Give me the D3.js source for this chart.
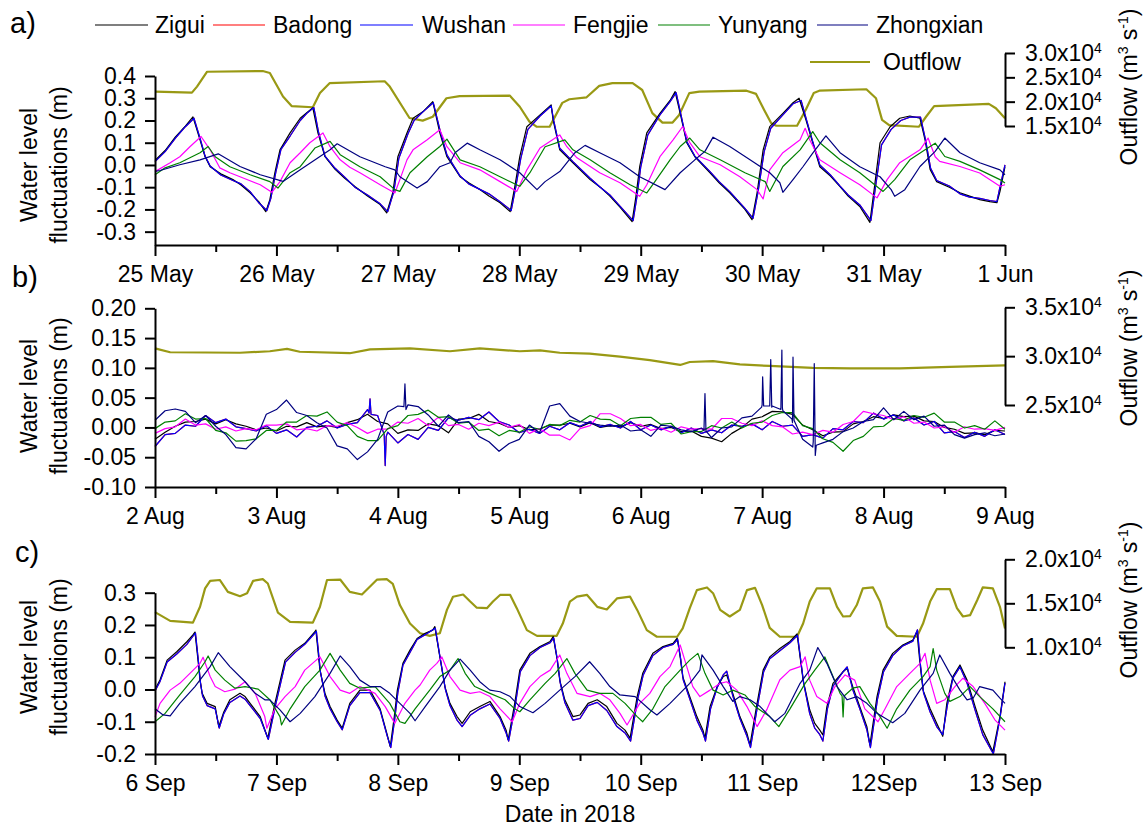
<!DOCTYPE html>
<html>
<head>
<meta charset="utf-8">
<script src="https://cdn.jsdelivr.net/npm/d3@7"></script>
<style>
body { margin: 0; background: #fff; }
svg text { font-family: "Liberation Sans", Arial, sans-serif; fill: #000; }
</style>
</head>
<body>
<svg id="chart" width="1147" height="827"></svg>
<script>
// ---- data (hours since the first day of each panel, value) ----
var stations = ["Zigui", "Badong", "Wushan", "Fengjie", "Yunyang", "Zhongxian"];

var daysA = ["25 May", "26 May", "27 May", "28 May", "29 May", "30 May", "31 May", "1 Jun"];
var daysB = ["2 Aug", "3 Aug", "4 Aug", "5 Aug", "6 Aug", "7 Aug", "8 Aug", "9 Aug"];
var daysC = ["6 Sep", "7 Sep", "8 Sep", "9 Sep", "10 Sep", "11 Sep", "12Sep", "13 Sep"];

var levelTicksA = [-0.3, -0.2, -0.1, 0, 0.1, 0.2, 0.3, 0.4];
var levelTicksB = [-0.10, -0.05, 0, 0.05, 0.10, 0.15, 0.20];
var levelTicksC = [-0.2, -0.1, 0, 0.1, 0.2, 0.3];
var flowTicksA = [15000, 20000, 25000, 30000];
var flowTicksB = [25000, 30000, 35000];
var flowTicksC = [10000, 15000, 20000];

// panel a: 25 May - 1 Jun
var ziguiA = [[0,0.02],[2,0.065],[4,0.125],[6,0.175],[7.5,0.216],[8.9,0.113],[9.9,0.037],[10.9,-0.008],[13,-0.04],[15.4,-0.066],[17,-0.09],[18.8,-0.125],[20.5,-0.165],[21.9,-0.21],[22.7,-0.156],[23.7,-0.035],[24.7,0.068],[26.7,0.144],[28.7,0.21],[30,0.235],[31.2,0.257],[32.2,0.144],[33.6,0.037],[35.6,-0.02],[37.5,-0.06],[39.5,-0.097],[42,-0.14],[44.5,-0.178],[45.8,-0.215],[47,-0.125],[48,0.037],[49.8,0.144],[51,0.21],[53,0.24],[54.9,0.285],[56.3,0.144],[57.7,0.037],[60.3,-0.053],[62,-0.08],[64.2,-0.11],[66,-0.14],[68.2,-0.17],[70.2,-0.21],[71.1,-0.1],[72.1,0.037],[73.5,0.172],[76.1,0.225],[78.3,0.27],[78.7,0.2],[80,0.068],[82.6,0.01],[86,-0.066],[88,-0.1],[89.9,-0.14],[91.9,-0.19],[94.3,-0.255],[95,-0.15],[95.8,-0.008],[97.2,0.144],[99.8,0.232],[101.8,0.29],[102.8,0.33],[103.8,0.232],[105.1,0.1],[106.7,0.037],[109.7,-0.035],[111.5,-0.08],[113.6,-0.125],[116.6,-0.2],[118,-0.246],[119,-0.125],[120.2,0.068],[121.5,0.172],[124.1,0.232],[126.1,0.28],[127.3,0.3],[128.7,0.2],[130,0.1],[131.4,-0.008],[133.5,-0.05],[135.4,-0.097],[137,-0.14],[139.3,-0.187],[141.3,-0.258],[142.2,-0.1],[143.3,0.1],[145.3,0.172],[147.2,0.21],[149.2,0.22],[151.2,0.21],[152.2,0.113],[153.2,-0.02],[154.5,-0.075],[157,-0.1],[159.1,-0.125],[161,-0.14],[163,-0.156],[165,-0.165],[166.4,-0.17],[167,-0.12],[168,-0.008]];
var wushanA = [[0,0.015],[2,0.06],[4,0.12],[6,0.172],[7.7,0.21],[8.9,0.12],[9.9,0.04],[10.9,-0.005],[13,-0.045],[15.4,-0.07],[17,-0.085],[18.8,-0.12],[20.5,-0.17],[22.1,-0.205],[22.9,-0.15],[23.9,-0.03],[24.9,0.07],[26.7,0.13],[28.7,0.2],[30,0.232],[31.4,0.258],[32.3,0.15],[33.6,0.04],[35.6,-0.015],[37.5,-0.055],[39.5,-0.1],[42,-0.135],[44.5,-0.175],[46,-0.21],[47.2,-0.12],[48.2,0.03],[50,0.14],[51.2,0.2],[53,0.24],[55,0.28],[56.4,0.15],[57.7,0.045],[60.3,-0.05],[62,-0.085],[64.2,-0.11],[66,-0.13],[68.2,-0.165],[70.4,-0.205],[71.3,-0.1],[72.3,0.03],[73.7,0.16],[76.1,0.22],[78.3,0.265],[78.8,0.2],[80,0.075],[82.6,0.015],[86,-0.06],[88,-0.1],[89.9,-0.135],[91.9,-0.185],[94.5,-0.25],[95.2,-0.15],[96,-0.01],[97.4,0.135],[99.8,0.225],[101.8,0.285],[103,0.325],[103.9,0.232],[105.1,0.105],[106.7,0.04],[109.7,-0.03],[111.5,-0.075],[113.6,-0.12],[116.6,-0.195],[118.2,-0.24],[119.2,-0.12],[120.4,0.06],[121.7,0.165],[124.1,0.225],[126.1,0.275],[127.7,0.29],[128.8,0.2],[130,0.105],[131.4,0],[133.5,-0.045],[135.4,-0.095],[137,-0.135],[139.3,-0.18],[141.5,-0.25],[142.4,-0.1],[143.6,0.09],[145.5,0.16],[147.4,0.2],[149.2,0.215],[151.3,0.215],[152.3,0.113],[153.3,-0.015],[154.5,-0.07],[157,-0.095],[159.1,-0.13],[161,-0.145],[163,-0.15],[165,-0.16],[166.4,-0.165],[167,-0.1],[168,0.0]];
var badongA = wushanA; // hidden under Wushan in the figure
var fengjieA = [[0,-0.03],[3,0.01],[4.9,0.037],[6.9,0.082],[9.1,0.128],[10.9,0.068],[12.8,-0.013],[14.8,-0.035],[16.8,-0.053],[20.8,-0.089],[23.1,-0.123],[24.7,-0.075],[26.7,0.01],[28.7,0.055],[30.6,0.1],[33.2,0.144],[34.6,0.082],[36.6,0.023],[38.5,-0.01],[40.5,-0.035],[44.5,-0.089],[47.4,-0.126],[48.4,-0.066],[49.8,0.023],[51,0.068],[53.8,0.113],[56.3,0.158],[57.7,0.082],[60.3,0.01],[64.2,-0.022],[68.2,-0.075],[71.5,-0.119],[73.5,-0.022],[76.1,0.076],[80,0.135],[81.4,0.082],[83.4,0.032],[87.9,-0.035],[91.9,-0.08],[95.8,-0.141],[97.2,-0.089],[99.8,0.037],[102.4,0.113],[104.3,0.173],[105.7,0.1],[107.7,0.037],[111.7,0.001],[115.6,-0.053],[119,-0.111],[120.2,-0.153],[121.5,-0.022],[124.1,0.055],[127.5,0.113],[128.5,0.165],[129.4,0.113],[131.4,0.023],[135.4,-0.035],[139.3,-0.089],[142.7,-0.148],[144.7,-0.066],[147.2,0.01],[151.2,0.068],[152.8,0.121],[154.2,0.037],[155.1,0.016],[159.1,-0.007],[163,-0.036],[167,-0.096],[168,-0.089]];
var yunyangA = [[0,-0.044],[2,-0.013],[4.9,0.01],[8.9,0.055],[10.5,0.083],[11.9,0.037],[14.8,-0.008],[18.8,-0.044],[22.7,-0.075],[24.3,-0.104],[26.7,-0.035],[28.7,-0.008],[31.6,0.076],[34.6,0.106],[36.6,0.046],[40.5,-0.008],[44.5,-0.053],[47.4,-0.111],[48.4,-0.119],[50.4,-0.035],[53.8,0.037],[56.3,0.083],[57.7,0.116],[60.3,0.023],[64.2,-0.008],[68.2,-0.053],[72.1,-0.096],[74.1,-0.035],[77.1,0.082],[81,0.113],[82.6,0.068],[86,0.023],[89.9,-0.035],[93.9,-0.089],[97.2,-0.126],[98.8,-0.075],[101.8,0.023],[103.8,0.083],[105.7,0.121],[107.7,0.068],[111.7,0.023],[116.6,-0.035],[120.6,-0.075],[121.5,-0.119],[124.1,-0.007],[127.5,0.068],[130,0.15],[131.4,0.1],[135.4,0.023],[139.3,-0.035],[143.9,-0.119],[146.2,-0.066],[149.2,0.023],[152.2,0.068],[154.2,0.098],[156.1,0.038],[159.1,0.016],[163,-0.022],[167,-0.066],[168,-0.081]];
var zhongxianA = [[0,-0.029],[1,-0.025],[4.9,0.001],[8.9,0.023],[12.5,0.05],[16.8,-0.007],[20.8,-0.044],[25.3,-0.074],[28.7,-0.022],[34.6,0.068],[36,0.095],[40.5,0.037],[45.5,-0.008],[47.4,-0.022],[48.4,-0.053],[51.8,-0.104],[53.8,-0.075],[56.3,-0.008],[58.3,0.01],[59.3,0.055],[61.7,0.098],[64.2,0.068],[68.2,0.023],[72.1,-0.035],[75.5,-0.111],[77.1,-0.075],[80,-0.03],[83,0.055],[85,0.088],[87.9,0.055],[91.9,0.01],[95.8,-0.053],[100.8,-0.111],[103.8,-0.035],[106.7,0.023],[108.7,0.061],[110.3,0.125],[113.6,0.083],[117.6,0.023],[121.5,-0.035],[123.5,-0.08],[124.1,-0.123],[126.1,-0.066],[128.1,-0.007],[130,0.053],[132.6,0.131],[135.4,0.055],[139.3,-0.008],[143.3,-0.053],[145.5,-0.111],[146.2,-0.141],[148.2,-0.111],[151.2,-0.007],[154.2,0.061],[156.1,0.121],[159.1,0.055],[163,0.01],[167,-0.022],[168,-0.044]];
var outflowA = [[0,22050],[7.3,21850],[8.3,23100],[10.3,26150],[21.3,26300],[22.7,25900],[25.3,21050],[27,19100],[31.2,18850],[32.6,21800],[34.5,23800],[45.4,24200],[46.4,23100],[50.3,16650],[52.9,16100],[54.9,16900],[57.6,20700],[60.2,21150],[70.1,21250],[72.1,18950],[74,15900],[75.4,14850],[78,14850],[80.5,19750],[81.9,20500],[85.3,20900],[87.8,23250],[90.4,23800],[94.4,23800],[96.3,22400],[98.3,17650],[100.3,15700],[102.3,15700],[103.6,17250],[105.6,21750],[107.6,22050],[116.9,22250],[118.8,21600],[120.4,18300],[121.8,15550],[122.8,15050],[126.9,15050],[128.6,18300],[130.2,21800],[131.3,22250],[140.6,22550],[142.5,20700],[143.7,16250],[145.1,15200],[151,14850],[152.4,16900],[154,19100],[164.8,19550],[166.2,18650],[168,16600]];

// panel b: 2 Aug - 9 Aug, read every 2 hours
var hoursB = d3.range(0, 169, 2);
var ziguiB = [
-0.02,-0.008,0.002,0.009,0.01,0.014,0.006,0.013,0.006,0.002,-0.004,-0.001,
-0.006,0.002,0.001,0.008,0.001,0.003,0.0,0.008,0.013,0.022,0.01,0.006,
-0.01,-0.004,-0.005,0.006,0.003,-0.009,0.014,0.015,0.022,0.01,0.007,0.0,
0.003,-0.004,-0.003,0.004,0.004,0.007,0.001,0.008,0.0,0.003,0.001,0.008,
0.002,0.005,-0.002,0.0,-0.007,-0.006,-0.015,-0.018,-0.024,-0.01,0.0,0.014,
0.018,0.027,0.026,0.022,0.004,-0.004,-0.014,-0.008,-0.007,0.006,0.01,0.018,
0.015,0.021,0.018,0.019,0.011,0.01,0.0,-0.003,-0.01,-0.009,-0.012,-0.005,
-0.006];
var wushanB = [
-0.032,-0.012,-0.01,0.004,0.002,0.02,0.008,0.014,0.001,-0.002,-0.006,0.003,
-0.01,-0.004,-0.016,0.0,0.002,0.011,-0.001,0.005,0.008,0.03,0.02,-0.008,
-0.026,-0.012,-0.02,0.0,-0.005,0.016,0.012,0.017,0.013,0.026,0.01,0.004,
-0.009,-0.003,-0.01,0.002,-0.004,0.008,0.002,0.01,0.001,0.005,-0.001,0.01,
-0.004,0.004,-0.004,0.002,-0.009,-0.001,-0.01,-0.004,-0.009,0.004,0.002,0.006,
-0.004,0.01,0.002,0.004,-0.015,-0.012,-0.018,-0.002,-0.004,0.01,0.008,0.024,
0.014,0.021,0.011,0.016,0.004,0.01,-0.009,-0.007,-0.017,-0.008,-0.015,-0.004,
-0.012];
var wushanBSpikes = [[42.3,0.024],[42.5,0.048],[42.7,0.022],[45.3,-0.012],[45.5,-0.064],[45.7,-0.015]];
var badongB = wushanB;
var fengjieB = [
-0.01,-0.002,0.001,0.014,0.004,0.006,-0.003,0.001,-0.006,-0.002,-0.004,0.004,
0.004,0.006,-0.004,-0.002,-0.006,0.003,0.002,0.008,0.0,-0.01,-0.003,-0.003,
0.009,0.007,0.015,0.003,0.017,0.003,0.005,-0.003,0.007,0.003,0.009,0.0,
0.005,-0.01,-0.002,-0.013,-0.013,-0.021,-0.002,0.003,0.023,0.023,0.015,0.003,
0.005,-0.005,-0.001,-0.008,0.001,-0.003,-0.002,-0.003,0.015,0.015,0.007,0.003,
0.011,0.003,0.001,-0.011,-0.008,-0.012,-0.005,-0.008,0.005,0.01,0.027,0.023,
0.02,0.013,0.018,0.007,0.009,-0.001,0.001,-0.008,0.001,-0.003,-0.002,-0.005,
0.0];
var yunyangB = [
-0.002,0.009,0.011,0.023,0.014,0.015,-0.005,-0.009,-0.023,-0.022,-0.019,-0.005,
-0.005,0.009,0.009,0.02,0.019,0.026,0.009,0.003,-0.015,-0.022,-0.022,-0.002,
0.003,0.02,0.022,0.029,0.017,0.018,0.007,0.009,-0.005,-0.003,-0.014,-0.005,
-0.008,0.001,-0.003,0.005,0.003,0.012,0.009,0.02,0.014,0.013,0.003,0.015,
0.017,0.017,0.005,0.007,-0.011,-0.007,-0.007,0.003,-0.001,0.009,-0.001,0.007,
0.009,0.02,0.025,0.025,0.003,-0.002,-0.019,-0.025,-0.04,-0.022,-0.015,0.001,
0.002,0.015,0.012,0.02,0.017,0.024,0.009,0.009,-0.001,0.003,-0.003,0.011,
-0.003];
var zhongxianB = [
0.012,0.028,0.031,0.027,0.008,0.02,0.002,-0.012,-0.034,-0.036,-0.019,0.022,
0.03,0.046,0.025,0.02,0.008,-0.001,-0.031,-0.036,-0.054,-0.041,-0.02,0.026,
0.036,0.038,0.035,0.021,0.002,0.021,0.008,0.01,-0.015,-0.024,-0.04,-0.027,
-0.02,0.004,-0.009,0.036,0.04,0.019,0.01,0.007,0.004,0.002,0.004,-0.006,
-0.004,-0.015,0.004,0.002,-0.004,-0.007,-0.001,-0.017,-0.001,0.001,0.016,0.019,
0.038,0.036,0.033,0.008,-0.02,-0.033,-0.026,-0.02,-0.007,-0.001,0.01,0.013,
0.033,0.013,0.027,0.013,0.019,0.002,0.004,-0.012,-0.018,-0.012,-0.009,-0.014,
-0.011];
var zhongxianBSpikes = [[49.2,0.035],[49.4,0.073],[49.6,0.03],[108.5,-0.005],[108.7,0.057],[108.9,-0.006],[119.9,0.034],[120.1,0.085],[120.3,0.036],[121.5,0.036],[121.7,0.114],[121.9,0.034],[123.7,0.03],[123.9,0.13],[124.1,0.028],[125.9,0.014],[126.1,0.118],[126.3,0.012],[130.1,-0.024],[130.3,0.107],[130.5,-0.047],[130.7,-0.03]];
var outflowB = [[0,30800],[3,30400],[16.8,30350],[22.7,30500],[26.1,30750],[28.6,30450],[38.5,30300],[42.5,30700],[50.4,30800],[58.3,30500],[64.2,30800],[72.1,30500],[76.1,30600],[80,30350],[85.9,30250],[91.9,29950],[97.8,29600],[103.8,29100],[105.7,29400],[110.3,29500],[115.6,29150],[121.5,29000],[130,28800],[137.4,28750],[147.2,28750],[157.1,28900],[168,29050]];

// panel c: 6 Sep - 13 Sep
var ziguiC = [[0,0.0],[1,0.03],[2.4,0.091],[4.3,0.117],[6.3,0.148],[7.5,0.169],[7.9,0.178],[8.5,0.091],[8.9,0.029],[9.3,-0.011],[10.3,-0.043],[11.9,-0.053],[12.6,-0.115],[13.6,-0.07],[14.8,-0.032],[16.8,-0.012],[17.8,-0.022],[18.8,-0.043],[20.8,-0.084],[22.3,-0.151],[23.7,-0.043],[25.7,0.091],[27.7,0.122],[29.6,0.143],[31.6,0.179],[31.8,0.184],[32.6,0.06],[33.6,-0.012],[34.6,-0.053],[36,-0.095],[37,-0.12],[38.5,-0.043],[40.5,-0.002],[42.5,-0.002],[44.5,-0.06],[46,-0.146],[46.5,-0.177],[47.3,-0.084],[47.9,-0.002],[49,0.081],[50.4,0.122],[51.8,0.158],[53.4,0.174],[54.9,0.184],[55.3,0.195],[56.3,0.101],[57.3,0.009],[58.3,-0.043],[59.7,-0.084],[60.7,-0.105],[62.3,-0.069],[64.2,-0.053],[66.2,-0.037],[68.2,-0.084],[69.4,-0.126],[69.8,-0.156],[71.1,-0.043],[72.1,0.06],[74.1,0.112],[76.1,0.133],[78.1,0.149],[78.7,0.164],[79.4,0.101],[80,0.029],[81,-0.032],[82.6,-0.084],[84,-0.079],[85.6,-0.043],[87.4,-0.032],[89.3,-0.053],[91.3,-0.105],[92.9,-0.126],[93.9,-0.151],[95.3,-0.022],[96.4,0.05],[98.4,0.112],[100.4,0.133],[102.4,0.143],[103.2,0.159],[103.8,0.101],[104.3,0.04],[105.7,-0.022],[107.1,-0.084],[108.3,-0.126],[108.7,-0.151],[109.7,-0.053],[111.1,0.009],[112.3,0.04],[113,0.045],[114.2,-0.012],[115.6,-0.084],[117,-0.136],[117.6,-0.172],[119,-0.043],[120.2,0.06],[121.5,0.101],[123.5,0.127],[125.5,0.149],[126.9,0.172],[127.5,0.101],[128.1,0.029],[129.4,-0.063],[130.4,-0.105],[131.4,-0.126],[132,-0.141],[132.8,-0.053],[134,0.019],[136,0.055],[136.8,0.066],[137.9,0.009],[139.3,-0.053],[140.7,-0.115],[141.3,-0.172],[142.7,-0.022],[143.9,0.06],[145.8,0.112],[147.8,0.138],[149.8,0.153],[150.6,0.179],[151.2,0.081],[151.8,-0.002],[153.2,-0.06],[154.5,-0.105],[155.7,-0.145],[156.5,-0.043],[157.7,0.04],[159.1,0.076],[160.5,0.029],[162.1,-0.053],[163.6,-0.126],[165.6,-0.193],[167,-0.084],[168,0.024]];
var wushanC = [[0,-0.005],[1,0.025],[2.4,0.085],[4.3,0.11],[6.3,0.14],[7.5,0.165],[8,0.175],[8.6,0.085],[9,0.02],[9.4,-0.02],[10.3,-0.05],[11.9,-0.06],[12.7,-0.12],[13.6,-0.075],[14.8,-0.04],[16.8,-0.02],[17.8,-0.03],[18.8,-0.05],[20.8,-0.09],[22.4,-0.155],[23.8,-0.05],[25.8,0.085],[27.7,0.115],[29.6,0.14],[31.6,0.175],[31.9,0.18],[32.7,0.055],[33.6,-0.02],[34.6,-0.06],[36,-0.1],[37,-0.125],[38.5,-0.05],[40.5,-0.01],[42.5,-0.01],[44.5,-0.065],[46,-0.15],[46.6,-0.18],[47.4,-0.09],[48,-0.01],[49,0.075],[50.4,0.115],[51.8,0.155],[53.4,0.17],[54.9,0.185],[55.4,0.19],[56.4,0.095],[57.4,0.0],[58.3,-0.05],[59.7,-0.095],[60.7,-0.115],[62.3,-0.08],[64.2,-0.06],[66.2,-0.045],[68.2,-0.09],[69.4,-0.135],[69.9,-0.16],[71.2,-0.05],[72.2,0.055],[74.1,0.105],[76.1,0.13],[78.1,0.145],[78.8,0.16],[79.5,0.095],[80.1,0.02],[81,-0.04],[82.6,-0.095],[84,-0.09],[85.6,-0.05],[87.4,-0.04],[89.3,-0.065],[91.3,-0.115],[92.9,-0.135],[94,-0.16],[95.4,-0.03],[96.5,0.045],[98.4,0.105],[100.4,0.13],[102.4,0.14],[103.3,0.155],[103.9,0.095],[104.4,0.03],[105.7,-0.03],[107.1,-0.095],[108.3,-0.135],[108.8,-0.16],[109.8,-0.06],[111.1,0.005],[112.3,0.045],[113,0.057],[114.2,-0.02],[115.6,-0.09],[117,-0.145],[117.7,-0.18],[119.1,-0.05],[120.3,0.055],[121.5,0.095],[123.5,0.12],[125.5,0.145],[127,0.168],[127.6,0.095],[128.2,0.02],[129.4,-0.075],[130.4,-0.12],[131.4,-0.14],[132,-0.16],[132.9,-0.06],[134,0.01],[136,0.055],[136.8,0.07],[137.9,0.0],[139.3,-0.06],[140.7,-0.125],[141.4,-0.18],[142.8,-0.03],[144,0.055],[145.8,0.105],[147.8,0.135],[149.8,0.15],[150.7,0.185],[151.3,0.075],[151.9,-0.01],[153.2,-0.07],[154.5,-0.115],[155.7,-0.14],[156.6,-0.05],[157.7,0.035],[159.1,0.07],[160.5,0.02],[162.1,-0.065],[163.6,-0.14],[165.7,-0.2],[167,-0.09],[168,0.02]];
var badongC = wushanC;
var fengjieC = [[0,-0.085],[1,-0.043],[3,-0.002],[4.9,0.019],[6.9,0.05],[8.9,0.081],[9.5,0.1],[10.9,0.04],[11.9,0.009],[13.8,-0.007],[15.8,0.001],[17.8,0.024],[19.8,-0.012],[21.7,-0.084],[22.1,-0.12],[23.7,-0.06],[25.7,-0.022],[27.7,0.009],[29.6,0.06],[32.6,0.101],[34.6,0.04],[36.6,-0.002],[38.5,-0.012],[40.5,0.009],[43.5,-0.012],[45.5,-0.053],[47.4,-0.105],[49.4,-0.043],[51.4,-0.002],[52.4,0.014],[54.3,0.06],[55.7,0.081],[56.7,0.101],[58.3,0.04],[60.3,-0.002],[62.3,-0.012],[64.2,-0.007],[66.2,-0.022],[68.2,-0.06],[70.6,-0.1],[72.1,-0.043],[74.1,0.009],[76.1,0.04],[78.1,0.06],[80,0.107],[81.4,0.05],[83.4,-0.012],[86,-0.022],[87.9,-0.012],[89.9,-0.032],[91.9,-0.074],[93.3,-0.11],[95.8,-0.043],[97.8,-0.012],[99.8,0.04],[101.8,0.071],[103.8,0.138],[105.1,0.071],[106.3,0.009],[107.7,-0.022],[109.7,-0.002],[111.7,0.019],[113,0.024],[115,-0.002],[117,-0.053],[119,-0.115],[121,-0.06],[123.5,0.03],[125.5,0.06],[127.5,0.071],[128.5,0.101],[129.4,0.029],[130.8,-0.022],[132.8,-0.043],[134.4,0.009],[136.4,0.045],[138.3,0.029],[140.3,-0.06],[142.9,-0.1],[144.3,-0.06],[146.6,0.009],[149.2,0.05],[151.2,0.081],[152.2,0.112],[153.2,0.029],[154.5,-0.043],[156.1,-0.032],[158.1,0.009],[159.7,0.035],[161.7,0.009],[164,-0.043],[166,-0.094],[168,-0.126]];
var yunyangC = [[0,-0.1],[2,-0.074],[4.9,-0.017],[7.9,0.04],[9.9,0.086],[10.5,0.104],[11.9,0.06],[13.8,0.029],[15.8,0.004],[17.8,0.009],[20.4,0.001],[22.7,-0.032],[24.7,-0.084],[25,-0.11],[26.7,-0.06],[29.6,0.009],[32.6,0.06],[34.6,0.112],[36.6,0.06],[38.5,0.019],[40.5,0.004],[43.5,0.009],[46.4,-0.043],[48.4,-0.1],[49.4,-0.105],[51.4,-0.06],[54.3,-0.002],[56.3,0.04],[58.3,0.06],[59.9,0.096],[61.3,0.05],[63.2,0.009],[66.2,-0.012],[69.2,-0.032],[71.1,-0.06],[72.1,-0.069],[74.1,-0.032],[77.1,0.019],[79.1,0.05],[81.4,0.096],[83,0.05],[85.4,-0.002],[87.9,-0.012],[90.5,-0.012],[92.9,-0.043],[95.3,-0.084],[96.4,-0.1],[98.4,-0.06],[100.8,0.009],[103.8,0.06],[105.7,0.091],[107.3,0.112],[108.7,0.05],[110.3,-0.002],[112.3,-0.017],[114.2,-0.002],[116.6,-0.017],[118.6,-0.053],[121.5,-0.084],[123.3,-0.115],[125.5,-0.06],[128.5,0.019],[130.4,0.06],[132.4,0.101],[134,0.04],[135.4,-0.012],[135.8,-0.02],[136,-0.085],[136.2,-0.02],[137.9,0.004],[139.3,0.009],[141.3,-0.043],[143.3,-0.084],[144.7,-0.12],[146.6,-0.06],[149.2,-0.002],[151.8,0.04],[153.2,0.071],[153.8,0.127],[154.5,0.06],[156.1,-0.012],[157.1,-0.037],[159.1,-0.022],[161.1,0.009],[163,-0.022],[165.6,-0.06],[168,-0.1]];
var zhongxianC = [[0,-0.06],[1.6,-0.079],[3,-0.082],[4.9,-0.043],[7.9,0.009],[10.9,0.071],[12.5,0.114],[14.8,0.071],[17.8,0.024],[19.8,-0.012],[21.7,-0.032],[22.7,-0.032],[24.7,-0.063],[26.7,-0.1],[28.7,-0.074],[31.6,-0.022],[34.6,0.05],[36.6,0.104],[38.5,0.071],[40.5,0.029],[42.5,0.009],[44.5,0.009],[46.4,-0.012],[48.4,-0.043],[50.4,-0.074],[51.4,-0.097],[53.4,-0.053],[56.3,0.009],[58.3,0.06],[60.3,0.094],[62.3,0.06],[64.2,0.024],[66.2,-0.002],[68.2,-0.007],[70.2,-0.022],[72.1,-0.053],[74.7,-0.072],[77.1,-0.043],[80,-0.002],[83,0.04],[85.9,0.086],[87.9,0.05],[89.9,0.009],[91.9,-0.017],[94.9,-0.022],[97.8,-0.063],[99.2,-0.079],[101.8,-0.043],[105.7,0.019],[107.7,0.06],[108.1,0.107],[110.3,0.06],[112.3,0.009],[114.2,-0.037],[115.6,-0.022],[117.6,-0.032],[119.6,-0.053],[121.5,-0.084],[122.5,-0.1],[124.5,-0.074],[127.5,0.019],[129.4,0.06],[131,0.13],[132.8,0.081],[134.8,0.009],[136.8,-0.032],[138.7,-0.022],[140.7,-0.043],[142.7,-0.074],[145.8,-0.103],[148.2,-0.074],[151.2,-0.002],[153.8,0.05],[155.1,0.107],[157.1,0.05],[159.1,-0.002],[160.5,-0.032],[161.7,-0.027],[163,0.009],[165.6,-0.002],[167,-0.027],[168,-0.043]];
var outflowC = [[0,14000],[3,13000],[7.5,12800],[8.9,14600],[9.9,16700],[10.9,17550],[12.8,17650],[14.4,16300],[16.8,15800],[18.2,16150],[19.4,17550],[21.3,17750],[22.3,17250],[24.3,13950],[26.7,12900],[31.2,12800],[32.6,14600],[34,17650],[36.6,17700],[38.5,16300],[40.9,16000],[42.5,16900],[43.9,17700],[45.8,17750],[47,17200],[48.4,14800],[50.4,12700],[52.4,11600],[54.3,11300],[56.3,11600],[57.7,14250],[58.9,15750],[60.9,16000],[62.3,15200],[63.6,14500],[65.6,14450],[66.8,15200],[68.2,15950],[70.2,15950],[71.5,14450],[73.5,11950],[75.5,11300],[79.4,11300],[80.6,12700],[82,15200],[83.4,15750],[85.4,15950],[87.4,14600],[89.3,14300],[91.3,15550],[93.9,15750],[95.3,14250],[97.2,11950],[99.2,11200],[103.2,11200],[104.3,12150],[105.7,14450],[107.1,16500],[109.1,16800],[110.3,16150],[111.7,14250],[113.6,13500],[115.6,14250],[117,16500],[118.6,16750],[120,14800],[121.5,12200],[123.5,11200],[126.9,11200],[128.1,12700],[129.4,15200],[130.8,16700],[133.4,16700],[134.8,14600],[136,13500],[137.4,13550],[138.7,14800],[139.9,16700],[141.9,16800],[143.3,15200],[144.7,12350],[146.6,11300],[150.6,11200],[151.8,12700],[153.2,15200],[154.5,16600],[157.1,16600],[158.5,14450],[159.7,13500],[161.1,13650],[162.5,15350],[163.6,16800],[165.6,16700],[167,14600],[168,12150]];

// ---- styles / layout ----
var colors = { Zigui: "#000000", Badong: "#ff0000", Wushan: "#0000ff", Fengjie: "#ff00ff",
               Yunyang: "#008000", Zhongxian: "#000080", Outflow: "#999914" };
var drawOrder = ["Badong", "Zigui", "Wushan", "Fengjie", "Yunyang", "Zhongxian"];
var X0 = 155, X1 = 1005;
var FS = 23;

// grid series of panel b -> [hour, value], with the thin spikes merged in
function gridSeries(vals, spikes) {
  var pts = hoursB.map(function (h, i) { return [h, vals[i]]; });
  if (spikes) pts = pts.concat(spikes).sort(function (a, b) { return a[0] - b[0]; });
  return pts;
}

var panels = [
  { label: "a)", lx: 10, ly: 33, top: 76, bottom: 245, yDomain: [-0.36, 0.4], yTicks: levelTicksA, digits: 1,
    rTop: 53, rBottom: 126, rDomain: [15000, 30000], rTicks: flowTicksA, days: daysA, titleY: 165, rTitleY: 87,
    series: { Zigui: ziguiA, Badong: badongA, Wushan: wushanA, Fengjie: fengjieA, Yunyang: yunyangA, Zhongxian: zhongxianA },
    outflow: outflowA },
  { label: "b)", lx: 12, ly: 287, top: 308.3, bottom: 487, yDomain: [-0.10, 0.20], yTicks: levelTicksB, digits: 2,
    rTop: 307.3, rBottom: 405, rDomain: [25000, 35000], rTicks: flowTicksB, days: daysB, titleY: 396, rTitleY: 348,
    series: { Zigui: gridSeries(ziguiB), Badong: gridSeries(badongB, wushanBSpikes), Wushan: gridSeries(wushanB, wushanBSpikes),
              Fengjie: gridSeries(fengjieB), Yunyang: gridSeries(yunyangB), Zhongxian: gridSeries(zhongxianB, zhongxianBSpikes) },
    outflow: outflowB },
  { label: "c)", lx: 15, ly: 562, top: 592.7, bottom: 754, yDomain: [-0.2, 0.3], yTicks: levelTicksC, digits: 1,
    rTop: 559.3, rBottom: 647.3, rDomain: [10000, 20000], rTicks: flowTicksC, days: daysC, titleY: 657, rTitleY: 600,
    series: { Zigui: ziguiC, Badong: badongC, Wushan: wushanC, Fengjie: fengjieC, Yunyang: yunyangC, Zhongxian: zhongxianC },
    outflow: outflowC }
];

var svg = d3.select("#chart");
svg.append("rect").attr("width", 1147).attr("height", 827).attr("fill", "#fff");

function styleAxis(g) {
  g.attr("font-size", FS).attr("font-family", "'Liberation Sans', Arial, sans-serif");
  g.selectAll(".domain, .tick line").attr("stroke", "#000").attr("stroke-width", 2);
  g.selectAll("text").attr("fill", "#000");
}

panels.forEach(function (p) {
  var x = d3.scaleLinear().domain([0, 168]).range([X0, X1]);
  var y = d3.scaleLinear().domain(p.yDomain).range([p.bottom, p.top]);
  var yR = d3.scaleLinear().domain(p.rDomain).range([p.rBottom, p.rTop]);
  var g = svg.append("g");

  // outflow under the water level lines
  g.append("path").datum(p.outflow)
    .attr("d", d3.line().x(function (d) { return x(d[0]); }).y(function (d) { return yR(d[1]); }))
    .attr("fill", "none").attr("stroke", colors.Outflow).attr("stroke-width", 2.2)
    .attr("stroke-linejoin", "round");

  var lvl = d3.line().x(function (d) { return x(d[0]); }).y(function (d) { return y(d[1]); });
  drawOrder.forEach(function (name) {
    g.append("path").datum(p.series[name])
      .attr("d", lvl).attr("fill", "none").attr("stroke", colors[name]).attr("stroke-width", 1.2)
      .attr("stroke-linejoin", "round");
  });

  // x axis: day ticks + half-day minor ticks
  var dayTicks = d3.range(0, 169, 24);
  g.append("g").attr("transform", "translate(0," + p.bottom + ")")
    .call(d3.axisBottom(x).tickValues(dayTicks).tickFormat(function (d, i) { return p.days[i]; })
      .tickSize(11).tickPadding(10).tickSizeOuter(0))
    .call(styleAxis);
  g.append("g").attr("transform", "translate(0," + p.bottom + ")")
    .call(d3.axisBottom(x).tickValues(d3.range(12, 168, 24)).tickFormat("").tickSize(7).tickSizeOuter(0))
    .call(styleAxis)
    .select(".domain").remove();

  // left axis
  g.append("g").attr("transform", "translate(" + X0 + ",0)")
    .call(d3.axisLeft(y).tickValues(p.yTicks).tickFormat(function (d) { return d.toFixed(p.digits); })
      .tickSize(10).tickPadding(9).tickSizeOuter(0))
    .call(styleAxis);

  // right axis, labels like 1.5x10^4
  var ra = g.append("g").attr("transform", "translate(" + X1 + ",0)")
    .call(d3.axisRight(yR).tickValues(p.rTicks).tickFormat("").tickSize(10).tickPadding(10).tickSizeOuter(0))
    .call(styleAxis);
  ra.selectAll(".tick text").each(function (d) {
    var t = d3.select(this);
    t.append("tspan").text((d / 10000).toFixed(1) + "x10");
    t.append("tspan").attr("dy", "-0.55em").attr("font-size", 14).text("4");
  });

  // axis titles
  g.append("text").attr("transform", "translate(37," + p.titleY + ") rotate(-90)")
    .attr("text-anchor", "middle").attr("font-size", FS).text("Water level");
  g.append("text").attr("transform", "translate(67," + p.titleY + ") rotate(-90)")
    .attr("text-anchor", "middle").attr("font-size", FS).text("fluctuations (m)");
  var rt = g.append("text").attr("transform", "translate(1137," + p.rTitleY + ") rotate(-90)")
    .attr("text-anchor", "middle").attr("font-size", FS);
  rt.append("tspan").text("Outflow (m");
  rt.append("tspan").attr("dy", -9).attr("font-size", 14).text("3");
  rt.append("tspan").attr("dy", 9).text(" s");
  rt.append("tspan").attr("dy", -9).attr("font-size", 14).text("-1");
  rt.append("tspan").attr("dy", 9).text(")");

  g.append("text").attr("x", p.lx).attr("y", p.ly).attr("font-size", 29).text(p.label);
});

svg.append("text").attr("x", 570).attr("y", 822).attr("text-anchor", "middle")
  .attr("font-size", FS).text("Date in 2018");

// legend
var legendPos = [
  { name: "Zigui", x0: 95, x1: 148, tx: 155, y: 25 },
  { name: "Badong", x0: 213, x1: 265, tx: 273, y: 25 },
  { name: "Wushan", x0: 360, x1: 413, tx: 422, y: 25 },
  { name: "Fengjie", x0: 513, x1: 565, tx: 573, y: 25 },
  { name: "Yunyang", x0: 658, x1: 710, tx: 718, y: 25 },
  { name: "Zhongxian", x0: 817, x1: 868, tx: 876, y: 25 },
  { name: "Outflow", x0: 810, x1: 870, tx: 883, y: 62 }
];
var lg = svg.append("g");
legendPos.forEach(function (l) {
  lg.append("line").attr("x1", l.x0).attr("x2", l.x1).attr("y1", l.y).attr("y2", l.y)
    .attr("stroke", colors[l.name]).attr("stroke-width", l.name === "Outflow" ? 2.2 : 1.2);
  lg.append("text").attr("x", l.tx).attr("y", l.y + 8).attr("font-size", FS).text(l.name);
});
</script>
</body>
</html>
